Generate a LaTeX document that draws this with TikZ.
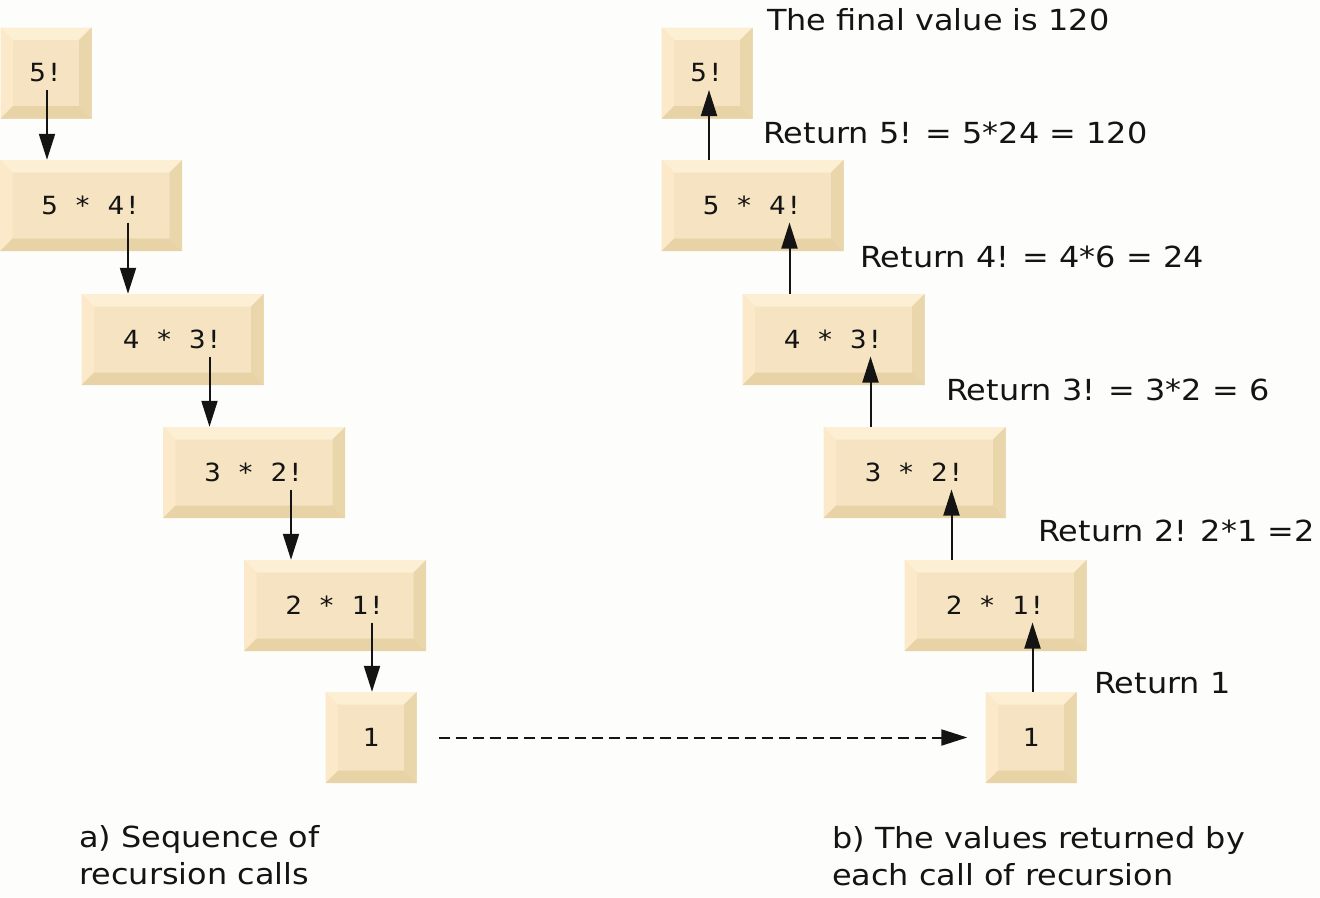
\documentclass[tikz,border=0pt]{standalone}
\usepackage{fontspec}
\setmainfont{DejaVu Sans}[FakeStretch=1.1]
\newfontfamily\boxfont{DejaVu Sans Mono}[FakeStretch=1.1]
\usetikzlibrary{arrows.meta}
\definecolor{bvtop}{HTML}{FDEFD4}
\definecolor{bvleft}{HTML}{FBE9C9}
\definecolor{bvright}{HTML}{EAD6AB}
\definecolor{bvbottom}{HTML}{E8D3A7}
\definecolor{bvface}{HTML}{F5E3C2}
\definecolor{ink}{HTML}{141414}
\definecolor{paper}{HTML}{FDFDFB}
\tikzset{
  bevelbox/.style={inner sep=0pt, fill=bvface, minimum height=91pt,
    font=\boxfont\fontsize{25}{30}\selectfont, text=ink,
    path picture={
      \coordinate (nw) at (path picture bounding box.north west);
      \coordinate (ne) at (path picture bounding box.north east);
      \coordinate (sw) at (path picture bounding box.south west);
      \coordinate (se) at (path picture bounding box.south east);
      \coordinate (inw) at ([shift={(12.5pt,-12.5pt)}]nw);
      \coordinate (ine) at ([shift={(-12.5pt,-12.5pt)}]ne);
      \coordinate (isw) at ([shift={(12.5pt,12.5pt)}]sw);
      \coordinate (ise) at ([shift={(-12.5pt,12.5pt)}]se);
      \fill[bvtop] (nw) -- (ne) -- (ine) -- (inw) -- cycle;
      \fill[bvleft] (nw) -- (inw) -- (isw) -- (sw) -- cycle;
      \fill[bvright] (ne) -- (se) -- (ise) -- (ine) -- cycle;
      \fill[bvbottom] (sw) -- (se) -- (ise) -- (isw) -- cycle;
    }},
  smallbox/.style={bevelbox, minimum width=91pt},
  bigbox/.style={bevelbox, minimum width=182pt},
  arr/.style={draw=ink, line width=2pt, -{Triangle[length=26pt,width=16pt]}},
  dasharr/.style={draw=ink, line width=2pt, dash pattern=on 11pt off 6pt, -{Triangle[length=26pt,width=16pt]}},
  lab/.style={inner sep=0pt, anchor=base west, text=ink, font=\fontsize{29}{37}\selectfont},
}
\begin{document}
\begin{tikzpicture}[x=1pt,y=-1pt]
\fill[paper] (0,0) rectangle (1320,897);
\useasboundingbox (0,0) rectangle (1320,897);

% left column
\node[smallbox] (L1) at (46,73) {5!};
\node[bigbox] (L2) at (91,205.5) {5 * 4!};
\node[bigbox] (L3) at (172.5,339.5) {4 * 3!};
\node[bigbox] (L4) at (254,472.5) {3 * 2!};
\node[bigbox] (L5) at (335,605.5) {2 * 1!};
\node[smallbox] (L6) at (371,737.5) {1};

% right column
\node[smallbox] (R1) at (707,73) {5!};
\node[bigbox] (R2) at (752.5,205.5) {5 * 4!};
\node[bigbox] (R3) at (833.5,339.5) {4 * 3!};
\node[bigbox] (R4) at (914.5,472.5) {3 * 2!};
\node[bigbox] (R5) at (995.5,605.5) {2 * 1!};
\node[smallbox] (R6) at (1031,737.5) {1};

% calls
\coordinate (a1) at ([shift={(1pt,-17pt)}]L1.center);
\coordinate (a2) at ([shift={(37pt,-17pt)}]L2.center);
\coordinate (a3) at ([shift={(37pt,-17pt)}]L3.center);
\coordinate (a4) at ([shift={(37pt,-17pt)}]L4.center);
\coordinate (a5) at ([shift={(37pt,-17pt)}]L5.center);
\draw[arr] (a1) -- (a1 |- L2.north);
\draw[arr] (a2) -- (a2 |- L3.north);
\draw[arr] (a3) -- (a3 |- L4.north);
\draw[arr] (a4) -- (a4 |- L5.north);
\draw[arr] (a5) -- (a5 |- L6.north);

% returns
\coordinate (b1) at ([shift={(2pt,-17pt)}]R1.center);
\coordinate (b2) at ([shift={(37pt,-17pt)}]R2.center);
\coordinate (b3) at ([shift={(37pt,-17pt)}]R3.center);
\coordinate (b4) at ([shift={(37pt,-17pt)}]R4.center);
\coordinate (b5) at ([shift={(37pt,-17pt)}]R5.center);
\draw[arr] (b1 |- R2.north) -- (b1);
\draw[arr] (b2 |- R3.north) -- (b2);
\draw[arr] (b3 |- R4.north) -- (b3);
\draw[arr] (b4 |- R5.north) -- (b4);
\draw[arr] (b5 |- R6.north) -- (b5);

\draw[dasharr] ([xshift=22pt]L6.east) -- ([xshift=-18pt]R6.west);

% labels
\node[lab] (t0) at (767,30) {The final value is 120};
\node[lab] (t1) at (763,143) {Return 5! = 5*24 = 120};
\node[lab] (t2) at (860,267) {Return 4! = 4*6 = 24};
\node[lab] (t3) at (946,400) {Return 3! = 3*2 = 6};
\node[lab] (t4) at (1038,541) {Return 2! 2*1 =2};
\node[lab] (t5) at (1094,693) {Return 1};
\node[lab, align=left] (ca) at (79,884) {a) Sequence of\\recursion calls};
\node[lab, align=left] (cb) at (832,885) {b) The values returned by\\each call of recursion};
\end{tikzpicture}
\end{document}
